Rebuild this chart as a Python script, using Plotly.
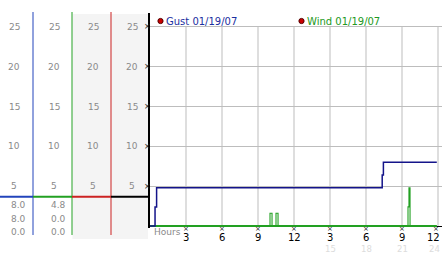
import plotly.graph_objects as go

# ---------------- data ----------------
gust_t = [0, 0.42, 0.55, 19.35, 19.45, 23.9]
gust_v = [0, 2.4, 4.8, 6.4, 8.0, 8.0]

wind_t = [0, 10.0, 10.17, 10.5, 10.67, 21.5, 21.58, 21.67, 23.9]
wind_v = [0, 1.6, 0, 1.6, 0, 2.4, 4.8, 0, 0]

y_ticks = [5, 10, 15, 20, 25]
x_ticks = [3, 6, 9, 12, 15, 18, 21, 24]
x_ticktext = ["3", "6", "9", "12", "3", "6", "9", "12"]
x_ticktext2 = ["15", "18", "21", "24"]
x_ticks2 = [15, 18, 21, 24]

col1_values = ["8.0", "8.0", "0.0"]
col2_values = ["4.8", "0.0", "0.0"]
marker_level = 3.68

legend_labels = ["Gust 01/19/07", "Wind 01/19/07"]

# ---------------- geometry ----------------
W, H = 442, 253
L, R, T, B = 150, 0, 13, 25
PW, PH = W - L - R, H - T - B
XR = [0, 24 + 4 / 12]
YR = [-0.25, 26.75]

FONT = "DejaVu Sans"
GUST_C = "#14148a"
WIND_C = "#22a022"


def px_x(p):
    return (p - L) / PW


def px_y(p):
    return (H - B - p) / PH


def val_y(v):
    return (v - YR[0]) / (YR[1] - YR[0])


fig = go.Figure()

fig.add_trace(go.Scatter(x=wind_t, y=wind_v, mode="lines", line_shape="hv",
                         line=dict(color=WIND_C, width=1.1), hoverinfo="skip"))
# thicker baseline portion of the wind series
fig.add_trace(go.Scatter(x=[wind_t[0], wind_t[-1]], y=[0, 0], mode="lines",
                         line=dict(color=WIND_C, width=2), hoverinfo="skip"))
fig.add_trace(go.Scatter(x=gust_t, y=gust_v, mode="lines", line_shape="hv",
                         line=dict(color=GUST_C, width=1.5), hoverinfo="skip"))

shapes = []
annotations = []

# gray background for columns 3 and 4
shapes.append(dict(type="rect", xref="paper", yref="paper",
                   x0=px_x(72.5), x1=px_x(148), y0=px_y(239), y1=px_y(14),
                   fillcolor="#f4f4f4", line=dict(width=0), layer="below"))

# vertical gridlines (0..25)
for xv in x_ticks:
    shapes.append(dict(type="line", xref="x", yref="y", x0=xv, x1=xv,
                       y0=0, y1=25, line=dict(color="#bdbdbd", width=1),
                       layer="below"))

# left-panel column lines
for xp, c in [(33, "#2244bb"), (72, "#22a022"), (111, "#cc2222")]:
    shapes.append(dict(type="line", xref="paper", yref="paper",
                       x0=px_x(xp), x1=px_x(xp), y0=px_y(235), y1=px_y(12),
                       line=dict(color=c, width=1)))

# horizontal marker segments
for (a, b), c in [((0, 33), "#2244bb"), ((33, 72), "#22a022"),
                  ((72, 111), "#cc2222"), ((111, 149), "#000000")]:
    shapes.append(dict(type="line", xref="paper", yref="paper",
                       x0=px_x(a), x1=px_x(b), y0=val_y(marker_level),
                       y1=val_y(marker_level), line=dict(color=c, width=2)))

# left-panel scale labels
for cx in [14, 54, 93, 132]:
    for v in y_ticks:
        annotations.append(dict(xref="paper", yref="paper", x=px_x(cx),
                                y=val_y(v), text=str(v), showarrow=False,
                                xanchor="center", yanchor="middle",
                                font=dict(family=FONT, size=9, color="#8a8a8a")))

# small x-like marks next to the axis
for v in y_ticks:
    annotations.append(dict(xref="paper", yref="paper", x=px_x(147),
                            y=val_y(v), text="×", showarrow=False,
                            xanchor="center", yanchor="middle",
                            font=dict(family=FONT, size=8, color="#222")))

# left-panel values
for right, vals in [(28, col1_values), (68, col2_values)]:
    for i, s in enumerate(vals):
        annotations.append(dict(xref="paper", yref="paper", x=px_x(right),
                                y=px_y(205 + 13.5 * i), text=s, showarrow=False,
                                xanchor="right", yanchor="middle",
                                font=dict(family=FONT, size=9, color="#8a8a8a")))

# x tick labels
for xv, s in zip(x_ticks, x_ticktext):
    last = xv == x_ticks[-1]
    annotations.append(dict(xref="x", yref="paper", x=xv, y=px_y(237),
                            text=s, showarrow=False,
                            xanchor="right" if last else "center",
                            xshift=4 if last else 0,
                            yanchor="middle",
                            font=dict(family=FONT, size=10, color="#000")))
    annotations.append(dict(xref="x", yref="paper", x=xv, y=px_y(229.5),
                            text="×", showarrow=False,
                            xanchor="right" if last else "center",
                            xshift=3 if last else 0,
                            yanchor="middle",
                            font=dict(family=FONT, size=7, color="#222")))
for xv, s in zip(x_ticks2, x_ticktext2):
    last = xv == x_ticks2[-1]
    annotations.append(dict(xref="x", yref="paper", x=xv, y=px_y(248.5),
                            text=s, showarrow=False,
                            xanchor="right" if last else "center",
                            xshift=4 if last else 0,
                            yanchor="middle",
                            font=dict(family=FONT, size=8.5, color="#dcdcdc")))

annotations.append(dict(xref="paper", yref="paper", x=px_x(152), y=px_y(232),
                        text="Hours", showarrow=False, xanchor="left",
                        yanchor="middle",
                        font=dict(family=FONT, size=9, color="#8a8a8a")))

# legend
for xp, label, c in [(157, legend_labels[0], "#1a2fa0"),
                     (298, legend_labels[1], "#229922")]:
    shapes.append(dict(type="circle", xref="paper", yref="paper",
                       xsizemode="pixel", ysizemode="pixel",
                       xanchor=px_x(xp + 3.5), yanchor=px_y(21),
                       x0=-2.6, x1=2.6, y0=-2.6, y1=2.6,
                       fillcolor="#cc0000", line=dict(color="#550000", width=1)))
    annotations.append(dict(xref="paper", yref="paper", x=px_x(xp + 7),
                            y=px_y(21), text=label, showarrow=False,
                            xanchor="left", yanchor="middle",
                            font=dict(family=FONT, size=10, color=c)))

fig.update_layout(
    width=W, height=H,
    margin=dict(l=L, r=R, t=T, b=B, pad=0),
    paper_bgcolor="white", plot_bgcolor="white",
    showlegend=False,
    shapes=shapes, annotations=annotations,
    xaxis=dict(range=XR, showgrid=False, zeroline=False, showticklabels=False,
               ticks="", showline=False, fixedrange=True),
    yaxis=dict(range=YR, tickvals=y_ticks, showgrid=True, gridcolor="#bdbdbd",
               gridwidth=1, showticklabels=False, ticks="",
               zeroline=True, zerolinecolor="#000", zerolinewidth=1,
               showline=True, linecolor="#000", linewidth=2, fixedrange=True),
)

fig.write_html("out.html", config=dict(displayModeBar=False))
